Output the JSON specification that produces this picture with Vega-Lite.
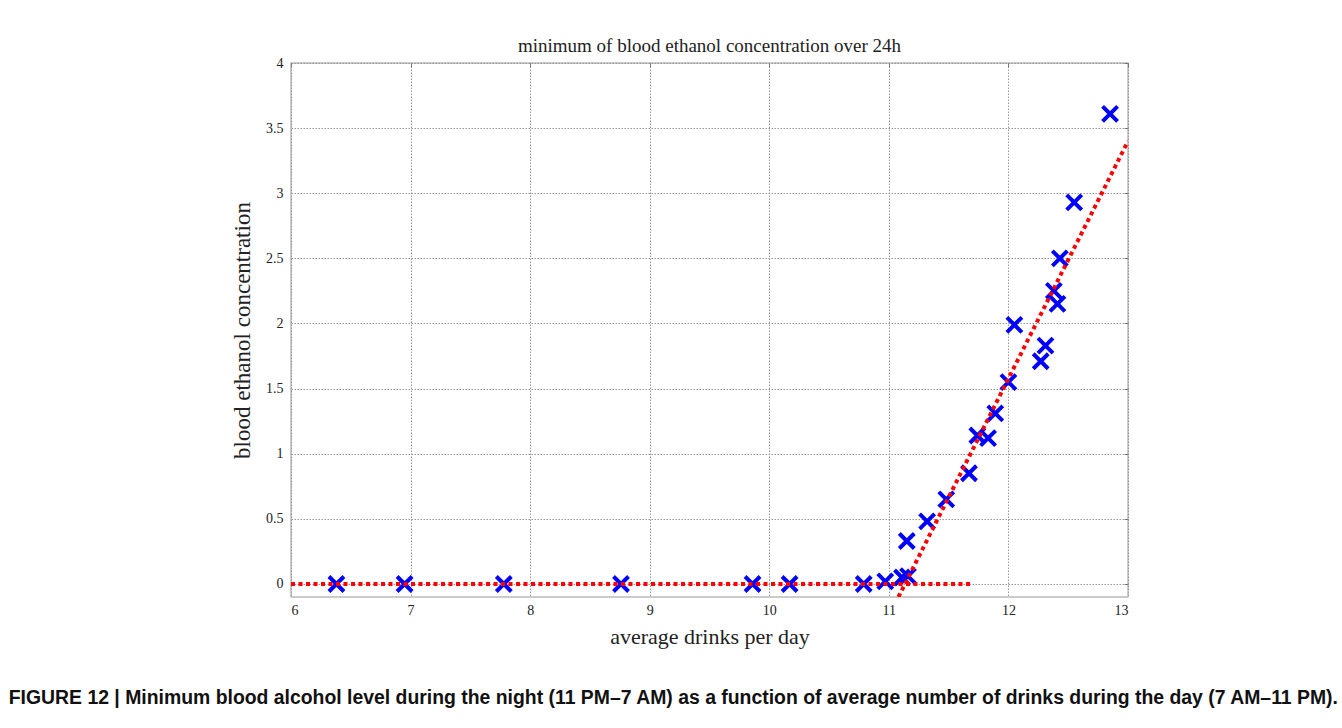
{
  "$schema": "https://vega.github.io/schema/vega-lite/v6.json",
  "background": "white",
  "padding": {"left": 8, "top": 36, "right": 5, "bottom": 10},
  "datasets": {
    "pts": [
      {"drinks": 6.38, "conc": 0},
      {"drinks": 6.95, "conc": 0},
      {"drinks": 7.78, "conc": 0},
      {"drinks": 8.76, "conc": 0},
      {"drinks": 9.86, "conc": 0},
      {"drinks": 10.17, "conc": 0},
      {"drinks": 10.79, "conc": 0},
      {"drinks": 10.97, "conc": 0.02},
      {"drinks": 11.11, "conc": 0.05},
      {"drinks": 11.16, "conc": 0.06},
      {"drinks": 11.15, "conc": 0.33},
      {"drinks": 11.32, "conc": 0.48},
      {"drinks": 11.48, "conc": 0.65},
      {"drinks": 11.67, "conc": 0.85},
      {"drinks": 11.74, "conc": 1.14},
      {"drinks": 11.83, "conc": 1.12},
      {"drinks": 11.89, "conc": 1.31},
      {"drinks": 12.0, "conc": 1.55},
      {"drinks": 12.05, "conc": 1.99},
      {"drinks": 12.27, "conc": 1.71},
      {"drinks": 12.31, "conc": 1.83},
      {"drinks": 12.41, "conc": 2.15},
      {"drinks": 12.38, "conc": 2.25},
      {"drinks": 12.43, "conc": 2.5},
      {"drinks": 12.55, "conc": 2.93},
      {"drinks": 12.85, "conc": 3.61}
    ],
    "fits": [
      {"seg": "flat", "drinks": 6.0, "conc": 0},
      {"seg": "flat", "drinks": 11.7, "conc": 0},
      {"seg": "slope", "drinks": 11.08, "conc": -0.1},
      {"seg": "slope", "drinks": 13.0, "conc": 3.4}
    ]
  },
  "title": {
    "text": "FIGURE 12 | Minimum blood alcohol level during the night (11 PM–7 AM) as a function of average number of drinks during the day (7 AM–11 PM).",
    "orient": "bottom",
    "anchor": "start",
    "font": "Liberation Sans",
    "fontSize": 19.4,
    "fontWeight": "bold",
    "color": "#111111",
    "dx": -222,
    "offset": 41
  },
  "vconcat": [
    {
      "width": 837,
      "height": 534,
      "title": {
        "text": "minimum of blood ethanol concentration over 24h",
        "font": "Liberation Serif",
        "fontSize": 19,
        "fontWeight": "normal",
        "color": "#222222",
        "offset": 0
      },
      "resolve": {"axis": {"x": "independent", "y": "independent"}},
      "layer": [
        {
          "data": {"name": "pts"},
          "mark": {
            "type": "point",
            "shape": "M -1 -1 L 1 1 M -1 1 L 1 -1",
            "filled": false,
            "stroke": "#0000ff",
            "strokeWidth": 4,
            "size": 225,
            "opacity": 1
          },
          "encoding": {
            "x": {
              "field": "drinks",
              "type": "quantitative",
              "scale": {"domain": [6, 13], "nice": false, "zero": false},
              "axis": {
                "title": "average drinks per day",
                "titleFontSize": 22,
                "values": [6, 7, 8, 9, 10, 11, 12, 13],
                "format": "d",
                "ticks": false,
                "labelPadding": 6,
                "titlePadding": 9
              }
            },
            "y": {
              "field": "conc",
              "type": "quantitative",
              "scale": {"domain": [-0.1, 4], "nice": false, "zero": false},
              "axis": {
                "title": "blood ethanol concentration",
                "titleFontSize": 23,
                "values": [0, 0.5, 1, 1.5, 2, 2.5, 3, 3.5, 4],
                "format": "~g",
                "ticks": false,
                "labelPadding": 8,
                "titlePadding": 11
              }
            }
          }
        },
        {
          "data": {"name": "fits"},
          "mark": {
            "type": "line",
            "color": "#ff0000",
            "strokeWidth": 4,
            "strokeDash": [4, 3.5],
            "clip": true
          },
          "encoding": {
            "x": {
              "field": "drinks",
              "type": "quantitative",
              "axis": {
                "orient": "top",
                "title": null,
                "labels": false,
                "grid": false,
                "ticks": true,
                "tickSize": -4,
                "values": [6, 7, 8, 9, 10, 11, 12, 13]
              }
            },
            "y": {
              "field": "conc",
              "type": "quantitative",
              "axis": {
                "orient": "right",
                "title": null,
                "labels": false,
                "grid": false,
                "ticks": true,
                "tickSize": -4,
                "values": [0, 0.5, 1, 1.5, 2, 2.5, 3, 3.5, 4]
              }
            },
            "detail": {"field": "seg", "type": "nominal"}
          }
        }
      ]
    }
  ],
  "config": {
    "view": {"stroke": "#bbbbbb", "strokeWidth": 1.5},
    "axis": {
      "labelFont": "Liberation Serif",
      "labelFontSize": 14,
      "labelColor": "#222222",
      "titleFont": "Liberation Serif",
      "titleFontSize": 20,
      "titleFontWeight": "normal",
      "titleColor": "#222222",
      "tickColor": "#777777",
      "tickWidth": 1,
      "domain": false,
      "grid": true,
      "gridColor": "#999999",
      "gridDash": [1.5, 1.5],
      "gridWidth": 1,
      "gridOpacity": 1
    }
  }
}
